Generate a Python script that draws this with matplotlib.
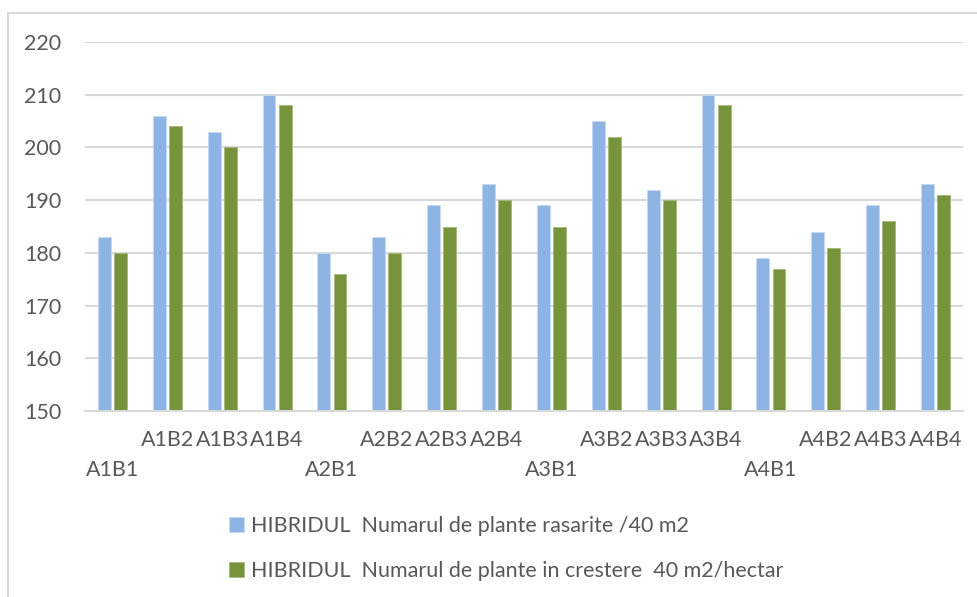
import numpy as np
import matplotlib.pyplot as plt
from matplotlib.patches import Rectangle

plt.rcParams['font.family'] = ['Lato', 'DejaVu Sans']

variants = ['A1B1', 'A1B2', 'A1B3', 'A1B4',
            'A2B1', 'A2B2', 'A2B3', 'A2B4',
            'A3B1', 'A3B2', 'A3B3', 'A3B4',
            'A4B1', 'A4B2', 'A4B3', 'A4B4']
rasarite = [183, 206, 203, 210, 180, 183, 189, 193,
            189, 205, 192, 210, 179, 184, 189, 193]
in_crestere = [180, 204, 200, 208, 176, 180, 185, 190,
               185, 202, 190, 208, 177, 181, 186, 191]
series_names = ['HIBRIDUL  Numarul de plante rasarite /40 m2',
                'HIBRIDUL  Numarul de plante in crestere  40 m2/hectar']

blue = '#8EB4E3'
green = '#77933C'
text_color = '#595959'
grid_color = '#D9D9D9'
fs = 15.5

W, H = 977, 597
fig = plt.figure(figsize=(W / 100, H / 100), dpi=100)

# chart area frame
fig.patches.append(Rectangle((8 / W, -0.1), 1.2, 1 - 13 / H + 0.1,
                             transform=fig.transFigure, fill=False,
                             edgecolor=grid_color, linewidth=1.5))

ax = fig.add_axes([85 / W, 1 - 411 / H, (963 - 85) / W, (411 - 42) / H])

x = np.arange(len(variants))
bw = 0.235
ax.bar(x - 0.146, rasarite, bw, color=blue, edgecolor='#C6DAF1',
       linewidth=0.6, label=series_names[0], zorder=3)
ax.bar(x + 0.146, in_crestere, bw, color=green, edgecolor='#A4B97A',
       linewidth=0.6, label=series_names[1], zorder=3)

ax.set_xlim(-0.5, len(variants) - 0.5)
ax.set_ylim(150, 220)
ax.set_yticks(range(150, 221, 10))
ax.yaxis.grid(True, color=grid_color, linewidth=1.5, zorder=0)
ax.set_axisbelow(True)

for side in ['top', 'right', 'left']:
    ax.spines[side].set_visible(False)
ax.spines['bottom'].set_color(grid_color)
ax.spines['bottom'].set_linewidth(1.5)
ax.spines['bottom'].set_zorder(4)

ax.tick_params(axis='y', length=0, pad=17, labelsize=fs, labelcolor=text_color)
ax.tick_params(axis='x', length=0, labelsize=fs, labelcolor=text_color)
ax.set_xticks(x)
ax.set_xticklabels(variants)

# labels that don't fit are staggered onto a second row
for i, tick in enumerate(ax.xaxis.get_major_ticks()):
    tick.set_pad(35 if i % 4 == 0 else 14)

handles, labels = ax.get_legend_handles_labels()
fig.legend(handles, labels, loc='upper left', bbox_to_anchor=(220 / W, 1 - 507 / H),
           frameon=False, fontsize=fs, labelcolor=text_color,
           handlelength=0.7, handleheight=0.7, handletextpad=0.35,
           labelspacing=1.2, borderaxespad=0)

fig.savefig('out.png', dpi=100, facecolor='white')
